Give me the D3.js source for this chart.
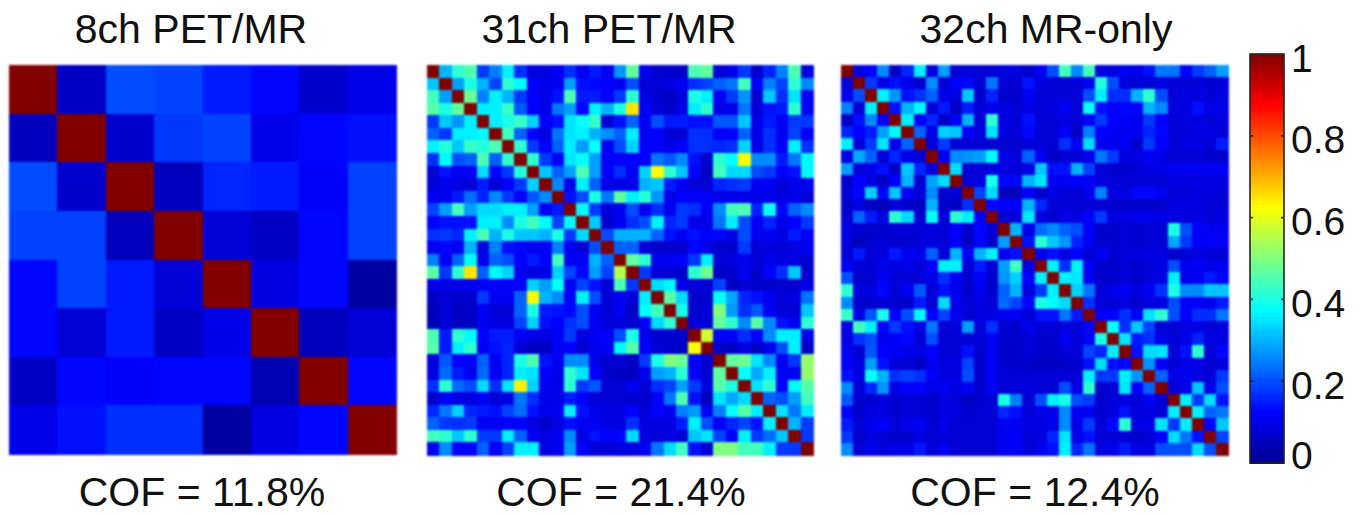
<!DOCTYPE html>
<html>
<head>
<meta charset="utf-8">
<script src="https://cdnjs.cloudflare.com/ajax/libs/d3/7.8.5/d3.min.js"></script>
<style>
html, body { margin: 0; padding: 0; background: #fff; }
svg { display: block; }
text { font-family: "Liberation Sans", Arial, sans-serif; fill: #111; }
</style>
</head>
<body>
<svg id="chart" width="1365" height="514"></svg>
<script>
// Noise correlation matrices, in hundredths
var ch8 = [
    [100,6,20,19,15,13,7,10],
    [5,100,7,18,19,10,13,14],
    [20,7,100,5,16,15,12,19],
    [19,19,5,100,8,6,13,19],
    [13,19,15,8,100,9,13,2],
    [13,8,15,6,10,100,5,8],
    [6,13,12,13,13,4,100,13],
    [10,14,17,17,2,9,13,100]
];

var ch31 = [
    [100,30,42,45,18,25,36,17,9,9,11,17,11,15,11,27,47,11,7,7,7,45,47,8,10,18,7,16,25,45,9],
    [32,100,28,40,30,19,42,38,12,10,11,28,14,13,12,11,20,8,8,9,11,17,19,22,24,44,12,25,19,42,26],
    [44,28,100,48,25,36,30,18,12,10,14,45,15,15,12,18,42,10,7,6,9,40,36,11,18,27,7,32,17,35,11],
    [46,40,47,100,36,36,43,21,12,10,24,28,13,36,30,40,65,12,8,7,10,36,42,10,10,24,8,14,15,42,11],
    [18,32,27,36,100,36,40,43,33,12,14,35,38,43,8,14,22,11,20,15,15,14,14,21,21,32,10,15,11,18,18],
    [22,18,36,36,37,100,44,22,12,9,24,35,36,30,26,22,36,11,12,8,8,17,17,12,12,22,10,17,11,19,11],
    [36,41,32,43,41,45,100,42,18,12,22,36,28,38,11,20,33,12,12,10,12,17,17,16,17,33,10,17,12,36,17],
    [17,37,20,22,45,22,42,100,42,18,12,35,38,28,12,12,12,12,24,21,26,14,7,42,38,62,26,26,15,24,37],
    [8,14,11,11,34,13,18,41,100,32,22,28,45,28,12,17,12,33,62,42,32,12,6,44,34,34,20,18,12,14,37],
    [8,10,9,8,15,8,12,18,33,100,26,10,36,22,10,10,10,30,32,15,11,8,8,16,17,18,11,11,8,10,11],
    [11,11,15,23,16,26,18,12,21,26,100,14,20,40,24,47,36,41,27,10,12,12,12,10,10,10,10,10,9,10,8],
    [19,28,44,28,34,34,36,36,28,11,15,100,37,18,9,11,20,11,17,11,18,17,12,26,44,45,16,38,13,22,26],
    [12,14,14,14,36,36,26,40,44,37,19,37,100,32,7,11,17,20,36,16,18,10,10,24,36,20,11,16,10,12,18],
    [17,18,16,36,45,30,40,32,32,30,40,18,34,100,20,30,30,30,22,14,11,14,12,13,10,20,11,11,9,15,12],
    [11,13,11,30,9,25,14,13,11,11,25,11,8,20,100,22,22,8,7,7,7,13,10,7,7,18,8,9,8,9,11],
    [25,11,22,37,10,22,20,12,15,12,44,11,11,30,22,100,47,42,11,11,12,18,36,8,9,10,8,10,9,9,7],
    [46,18,42,65,22,37,33,11,9,10,33,19,13,28,19,55,100,18,8,8,7,42,48,6,7,11,7,12,17,32,7],
    [10,10,10,11,12,12,12,11,33,28,38,11,19,14,8,45,18,100,34,37,10,8,8,19,6,8,7,7,7,7,9],
    [6,8,7,7,18,11,11,22,62,30,26,12,36,20,8,11,8,36,100,46,34,7,7,38,29,16,14,11,8,9,24],
    [5,8,6,6,11,8,8,22,40,15,14,13,20,11,8,11,6,38,44,100,40,7,8,50,28,17,21,11,8,8,32],
    [5,8,6,6,11,9,9,19,33,14,12,17,20,11,8,9,7,12,34,42,100,9,8,47,42,26,46,26,14,11,42],
    [45,15,42,37,12,15,15,11,10,9,12,18,9,11,12,20,40,10,7,7,7,100,58,12,12,17,12,26,36,36,10],
    [46,15,36,42,11,14,16,8,6,6,11,12,8,11,11,37,46,12,8,7,6,62,100,7,6,9,6,10,20,36,6],
    [9,21,12,12,22,11,16,40,45,14,11,26,26,10,7,8,6,18,40,50,48,12,7,100,47,48,35,26,11,18,52],
    [9,23,15,11,23,11,16,36,35,12,10,42,35,12,7,6,6,10,28,30,42,12,7,47,100,38,29,36,11,11,52],
    [17,42,23,20,34,17,35,64,33,11,10,42,18,21,8,8,11,8,17,19,28,18,9,46,40,100,35,42,12,37,46],
    [7,12,9,9,11,8,10,24,17,10,10,15,12,8,8,8,7,7,12,24,45,14,5,35,29,34,100,22,20,28,44],
    [16,24,33,16,15,14,19,23,14,10,11,36,14,10,9,9,12,8,12,11,25,27,11,25,38,46,36,100,35,24,36],
    [22,18,17,18,11,11,12,12,9,7,9,14,11,11,9,9,17,9,9,9,15,36,20,11,16,19,14,36,100,30,18],
    [44,42,32,42,18,18,36,22,11,9,11,26,9,14,12,13,34,9,8,9,8,32,35,19,12,36,18,23,32,100,18],
    [11,26,12,12,22,11,19,36,36,9,11,28,12,8,8,9,9,11,24,34,44,14,8,50,50,44,44,36,18,18,100]
];

var ch32 = [
    [100,9,12,26,6,16,36,9,28,8,8,8,8,9,9,7,11,20,44,26,44,9,9,11,10,14,24,24,12,18,22,28],
    [8,100,18,10,14,10,7,26,8,12,13,8,24,8,7,14,9,8,8,8,11,41,20,9,8,8,9,8,8,8,7,8],
    [10,20,100,36,27,14,17,22,10,9,32,7,16,7,7,11,8,8,8,8,20,36,17,17,30,42,20,8,9,9,8,9],
    [25,8,36,100,14,30,37,8,15,6,15,8,10,9,8,9,8,9,11,8,38,14,12,13,13,30,26,9,9,14,10,10],
    [6,14,26,12,100,36,12,16,6,12,30,8,42,9,8,14,8,8,9,8,12,18,12,12,10,18,12,8,9,9,8,9],
    [16,12,15,28,37,100,22,9,33,32,12,9,35,9,8,13,8,8,12,6,25,12,11,11,11,16,13,8,8,9,9,8],
    [36,8,18,35,10,22,100,8,18,7,8,8,8,7,7,8,8,8,17,11,34,10,11,11,7,18,12,8,9,9,8,15],
    [9,29,22,8,16,10,8,100,10,26,27,28,37,9,8,22,11,6,8,8,10,24,18,9,9,11,10,8,8,8,7,7],
    [28,8,10,14,6,32,16,9,100,34,8,8,9,9,8,9,32,14,14,30,19,8,7,7,8,9,10,11,11,11,11,11],
    [7,12,9,6,12,30,8,28,34,100,8,9,40,13,13,30,35,11,11,12,11,9,8,8,8,8,8,9,9,9,9,9],
    [8,13,33,13,32,12,8,26,7,8,100,19,34,5,5,12,7,9,8,8,11,25,9,9,13,13,11,8,8,9,9,8],
    [7,9,6,5,8,7,6,30,7,6,17,100,13,12,12,30,16,8,8,8,8,8,7,7,7,7,7,9,9,9,8,8],
    [8,22,15,9,42,34,8,38,8,42,36,12,100,8,8,35,9,7,10,9,12,18,9,9,10,10,10,9,9,9,8,9],
    [9,7,7,7,8,8,8,9,8,12,7,13,8,100,30,10,23,26,22,20,12,7,7,8,7,8,8,40,20,12,11,11],
    [9,5,7,8,7,7,8,9,8,12,6,13,7,28,100,14,42,32,27,16,11,7,7,8,7,8,8,29,18,12,12,12],
    [8,15,8,9,15,11,10,22,8,30,12,30,36,10,14,100,10,14,9,12,7,11,8,8,9,9,9,7,8,9,8,8],
    [11,8,8,10,9,10,8,12,36,36,8,15,8,28,44,9,100,36,17,36,12,7,7,8,7,8,9,20,11,11,10,11],
    [20,7,7,11,8,8,8,10,17,11,7,12,7,27,33,12,36,100,36,35,11,7,7,8,7,8,9,36,10,11,15,12],
    [42,9,9,13,8,11,21,8,14,11,7,11,7,22,30,9,18,36,100,33,24,8,10,11,9,11,17,40,26,26,32,32],
    [26,7,7,8,7,7,15,8,34,10,8,9,8,23,19,13,40,37,34,100,17,8,8,9,7,9,9,20,12,12,10,15],
    [43,10,21,40,12,20,37,12,19,11,8,9,9,11,11,8,14,14,24,15,100,12,12,17,12,35,42,20,12,17,17,24],
    [9,44,36,12,18,14,9,24,8,9,28,8,17,7,7,10,8,8,9,8,13,100,38,17,32,19,8,8,9,9,8,9],
    [9,17,20,11,12,13,8,20,8,8,8,8,11,7,7,8,7,7,11,8,12,40,100,35,15,17,10,8,10,16,9,9],
    [11,8,21,12,11,10,9,12,8,8,14,7,11,7,7,8,7,7,8,8,19,16,36,100,14,34,35,8,14,42,8,13],
    [11,9,28,14,8,8,6,11,9,9,19,7,11,7,7,7,6,6,7,7,14,34,14,13,100,27,12,8,10,10,7,8],
    [14,9,38,30,17,19,17,12,9,9,20,7,11,8,8,8,8,8,8,8,36,18,18,36,27,100,22,10,11,9,8,18],
    [26,8,16,27,10,12,12,10,11,9,11,7,11,8,8,9,8,8,20,10,42,7,8,35,12,22,100,8,10,32,10,20],
    [21,7,7,9,7,8,8,7,9,8,6,7,8,40,25,8,20,36,40,20,18,7,8,9,8,12,8,100,36,18,34,14],
    [12,7,9,9,7,8,8,7,9,9,7,8,8,16,14,8,10,10,26,11,11,7,9,14,8,9,8,36,100,36,22,24],
    [15,8,10,12,8,10,11,8,10,8,8,8,8,11,11,9,9,10,26,10,18,8,13,42,9,10,35,18,36,100,12,32],
    [18,7,9,8,7,7,10,8,9,8,8,8,8,11,12,8,9,16,35,10,14,8,8,8,7,8,12,34,24,14,100,19],
    [26,8,10,9,10,10,15,8,11,8,8,8,8,11,12,8,10,14,36,16,24,9,10,15,9,9,20,20,20,34,20,100]
];

var titles = ["8ch PET/MR", "31ch PET/MR", "32ch MR-only"];
var cofLabels = ["COF = 11.8%", "COF = 21.4%", "COF = 12.4%"];
var barTicks = [0, 0.2, 0.4, 0.6, 0.8, 1];

// matlab jet
var jet = d3.scaleLinear()
    .domain([0, 0.125, 0.375, 0.625, 0.875, 1])
    .range(["#00008f", "#0000ff", "#00ffff", "#ffff00", "#ff0000", "#800000"]);

var svg = d3.select("#chart");

// slight softening, the source is a resampled bitmap
svg.append("filter").attr("id", "soft")
    .attr("color-interpolation-filters", "sRGB")
    .append("feGaussianBlur").attr("stdDeviation", 0.8);

var panels = [
    {matrix: ch8, x0: 9, x1: 396, y0: 65, y1: 454, titleX: 191, cofX: 202},
    {matrix: ch31, x0: 427, x1: 813, y0: 65, y1: 455, titleX: 609, cofX: 621},
    {matrix: ch32, x0: 841, x1: 1228, y0: 65, y1: 455, titleX: 1046, cofX: 1035}
];

panels.forEach(function(p, i) {
    var idx = d3.range(p.matrix.length);
    var x = d3.scaleBand().domain(idx).range([p.x0, p.x1]);
    var y = d3.scaleBand().domain(idx).range([p.y0, p.y1]);

    var g = svg.append("g").attr("filter", "url(#soft)")
        .attr("shape-rendering", "crispEdges");

    g.selectAll("g")
        .data(p.matrix)
        .enter().append("g")
        .each(function(row, r) {
            d3.select(this).selectAll("rect")
                .data(row)
                .enter().append("rect")
                .attr("x", function(d, c) { return x(c); })
                .attr("y", y(r))
                .attr("width", x.bandwidth() + 0.5)
                .attr("height", y.bandwidth() + 0.5)
                .attr("fill", function(d) { return jet(d / 100); });
        });

    svg.append("text")
        .attr("x", p.titleX).attr("y", 43)
        .attr("text-anchor", "middle")
        .style("font-size", "41px")
        .text(titles[i]);

    svg.append("text")
        .attr("x", p.cofX).attr("y", 506)
        .attr("text-anchor", "middle")
        .style("font-size", "41px")
        .text(cofLabels[i]);
});

// colorbar
var barY = d3.scaleLinear().domain([0, 1]).range([463, 54]);
var barX0 = 1250, barX1 = 1284;
var steps = d3.range(128);

svg.append("g").attr("shape-rendering", "crispEdges").selectAll("rect")
    .data(steps)
    .enter().append("rect")
    .attr("x", barX0)
    .attr("width", barX1 - barX0)
    .attr("y", function(d) { return barY((d + 1) / 128); })
    .attr("height", function() { return (barY(0) - barY(1)) / 128 + 0.5; })
    .attr("fill", function(d) { return jet((d + 0.5) / 128); });

svg.append("rect")
    .attr("x", barX0).attr("y", barY(1))
    .attr("width", barX1 - barX0).attr("height", barY(0) - barY(1))
    .attr("fill", "none").attr("stroke", "#222").attr("stroke-width", 1.6);

var tickG = svg.append("g").attr("stroke", "#222").attr("stroke-width", 1.5);
barTicks.slice(1, 5).forEach(function(t) {
    tickG.append("line").attr("x1", barX0).attr("x2", barX0 + 3).attr("y1", barY(t)).attr("y2", barY(t));
    tickG.append("line").attr("x1", barX1 - 3).attr("x2", barX1).attr("y1", barY(t)).attr("y2", barY(t));
});

svg.append("g").selectAll("text")
    .data(barTicks)
    .enter().append("text")
    .attr("x", 1291)
    .attr("y", function(d) { return barY(d) + (d === 0 ? -8 : 4); })
    .attr("dy", "0.35em")
    .style("font-size", "39px")
    .text(function(d) { return d3.format("~g")(d); });
</script>
</body>
</html>
